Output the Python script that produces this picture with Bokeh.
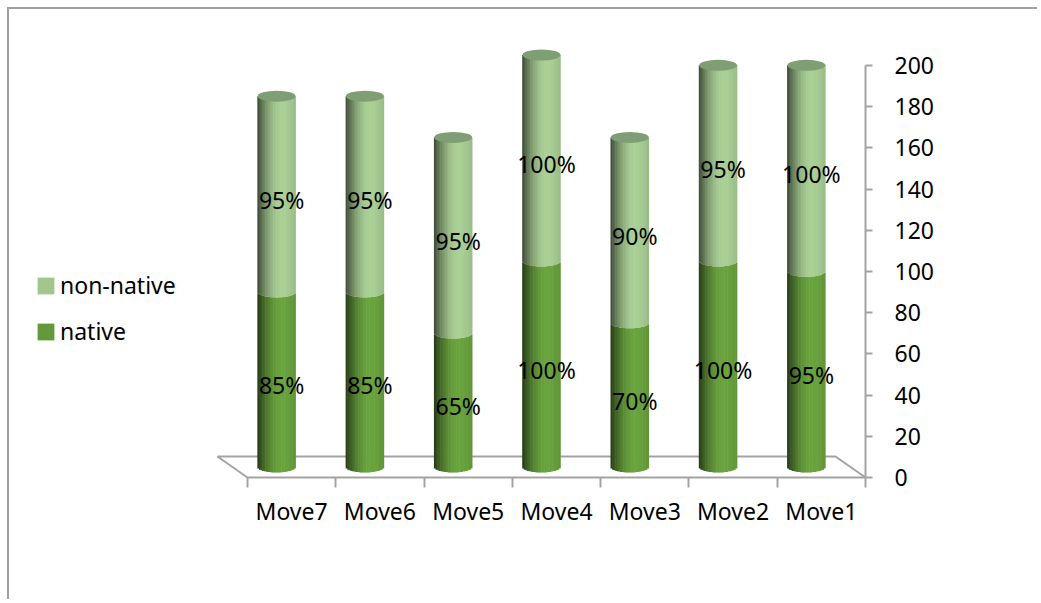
import numpy as np
from bokeh.plotting import figure
from bokeh.models import Range1d, FixedTicker, Legend, LegendItem, ColumnDataSource
from bokeh.embed import file_html
from bokeh.resources import INLINE
from bokeh.core.properties import value

# ---------------- data ----------------
categories = ["Move7", "Move6", "Move5", "Move4", "Move3", "Move2", "Move1"]
native = [85, 85, 65, 100, 70, 100, 95]
non_native = [95, 95, 95, 100, 90, 95, 100]
native_labels = ["85%", "85%", "65%", "100%", "70%", "100%", "95%"]
non_native_labels = ["95%", "95%", "95%", "100%", "90%", "95%", "100%"]
y_ticks = [0, 20, 40, 60, 80, 100, 120, 140, 160, 180, 200]

# ---------------- geometry / style ----------------
PX_X = 88.3          # pixels per category
PX_Y = 2.06          # pixels per value unit
DEPTH_X = 30 / PX_X  # 3D floor depth
DEPTH_Y = 21 / PX_Y
CYL_W = 38 / PX_X
CAP_B = 5.5 / PX_Y
NS = 24
FONT = "Noto Sans"
FS = "23px"
GRAY = "#a3a3a3"

n = len(categories)
W, H = 1030, 592

p = figure(width=W, height=H, output_backend="svg", toolbar_location=None,
           x_range=Range1d(-227 / PX_X, n + 2 / PX_X),
           y_range=Range1d(-3 / PX_Y, 457 / PX_Y),
           y_axis_location="right", tools="")
p.min_border = 0
p.min_border_left = 11
p.min_border_right = W - 11 - 847
p.min_border_top = 11
p.min_border_bottom = H - 11 - 460
p.outline_line_color = None
p.xgrid.visible = False
p.ygrid.visible = False
p.background_fill_color = "white"
p.border_fill_color = "white"
p.styles = {"margin-left": "7px", "margin-top": "7px",
            "border-left": "2px solid #a0a0a0", "border-top": "2px solid #a0a0a0"}

# floor
p.patch([0, n, n - DEPTH_X, -DEPTH_X], [0, 0, DEPTH_Y, DEPTH_Y],
        fill_color="white", line_color=GRAY, line_width=2)
# vertical axis line
p.segment(x0=[n], y0=[y_ticks[0]], x1=[n], y1=[y_ticks[-1]], line_color=GRAY, line_width=2)


def hexcol(rgb):
    return "#%02x%02x%02x" % tuple(int(max(0, min(255, round(c)))) for c in rgb)


u = (np.arange(NS) + 0.5) / NS
f = np.where(u < 0.65,
             0.34 + 0.66 * np.sin(np.pi / 2 * u / 0.65) ** 0.9,
             1.0 - 0.1 * ((u - 0.65) / 0.35) ** 1.5)
curve = CAP_B * np.sqrt(np.clip(1 - (2 * u - 1) ** 2, 0, 1))
base_native = np.array([106, 164, 62])
base_non = np.array([170, 208, 150])

cx = np.arange(n) + 0.5 - DEPTH_X / 2
base = DEPTH_Y / 2

nat = dict(x=[], bottom=[], top=[], color=[])
non = dict(x=[], bottom=[], top=[], color=[])
for i in range(n):
    for j in range(NS):
        xx = cx[i] - CYL_W / 2 + u[j] * CYL_W
        nat["x"].append(xx)
        nat["bottom"].append(base - curve[j])
        nat["top"].append(base + native[i] - curve[j])
        nat["color"].append(hexcol(base_native * f[j]))
        non["x"].append(xx)
        non["bottom"].append(base + native[i] - curve[j])
        non["top"].append(base + native[i] + non_native[i])
        non["color"].append(hexcol(base_non * f[j]))

sw = CYL_W / NS * 1.35
p.vbar(x="x", bottom="bottom", top="top", width=sw, fill_color="color", line_color=None,
       source=ColumnDataSource(nat))
p.vbar(x="x", bottom="bottom", top="top", width=sw, fill_color="color", line_color=None,
       source=ColumnDataSource(non))

tops = [base + a + b for a, b in zip(native, non_native)]
p.ellipse(x=cx, y=tops, width=CYL_W, height=2 * CAP_B, fill_color="#7f9e73", line_color=None)

# data labels
lx = cx + 5 / PX_X
p.text(x=lx, y=[base + a / 2 - 6 / PX_Y for a in native], text=native_labels,
       text_align="center", text_baseline="middle", text_font=value(FONT),
       text_font_size=FS, text_color="black")
p.text(x=lx, y=[base + a + b / 2 - 6 / PX_Y for a, b in zip(native, non_native)],
       text=non_native_labels, text_align="center", text_baseline="middle",
       text_font=value(FONT), text_font_size=FS, text_color="black")

# axes
xa = p.xaxis[0]
xa.ticker = FixedTicker(ticks=[i + 0.5 for i in range(n)], minor_ticks=list(range(n + 1)))
xa.major_label_overrides = {i + 0.5: c for i, c in enumerate(categories)}
xa.axis_line_color = None
xa.major_tick_line_color = None
xa.major_tick_in = 0
xa.major_tick_out = 0
xa.minor_tick_line_color = GRAY
xa.minor_tick_line_width = 2
xa.minor_tick_in = 3
xa.minor_tick_out = 7
xa.major_label_standoff = 7
xa.major_label_text_font = FONT
xa.major_label_text_font_size = FS
xa.major_label_text_color = "black"

ya = p.yaxis[0]
ya.ticker = FixedTicker(ticks=y_ticks, minor_ticks=[])
ya.axis_line_color = None
ya.major_tick_line_color = GRAY
ya.major_tick_line_width = 2
ya.major_tick_in = 2
ya.major_tick_out = 5
ya.minor_tick_line_color = None
ya.major_label_standoff = 22
ya.major_label_text_font = FONT
ya.major_label_text_font_size = FS
ya.major_label_text_color = "black"

# legend (renderers with no visible geometry)
r_non = p.quad(left=[np.nan], right=[np.nan], bottom=[np.nan], top=[np.nan],
               fill_color="#a3c68c", line_color=None)
r_nat = p.quad(left=[np.nan], right=[np.nan], bottom=[np.nan], top=[np.nan],
               fill_color="#63983b", line_color=None)
legend = Legend(items=[LegendItem(label="non-native", renderers=[r_non]),
                       LegendItem(label="native", renderers=[r_nat])],
                location=(15, 133), orientation="vertical")
legend.padding = 0
legend.margin = 0
legend.border_line_color = None
legend.background_fill_alpha = 0
legend.glyph_width = 21
legend.glyph_height = 21
legend.label_standoff = 4
legend.spacing = 14
legend.label_text_font = FONT
legend.label_text_font_size = FS
legend.label_text_color = "black"
p.add_layout(legend)

open("out.html", "w").write(file_html(p, INLINE))
